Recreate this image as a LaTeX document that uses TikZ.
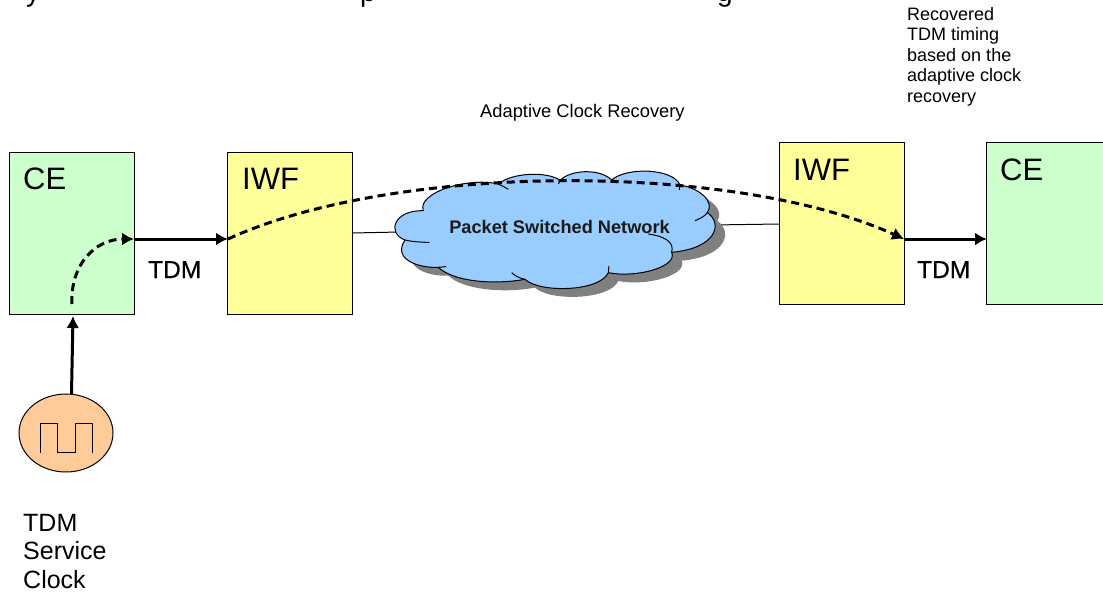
\documentclass[tikz,border=0pt]{standalone}
\usepackage{fontspec}
\setmainfont{Liberation Sans}
\newfontfamily\semibold[FakeBold=0.6]{Liberation Sans}
\usetikzlibrary{arrows.meta,shapes.geometric}
\definecolor{cegreen}{HTML}{CCFFCC}
\definecolor{iwfyellow}{HTML}{FFFF99}
\definecolor{cloudblue}{HTML}{99CCFF}
\definecolor{clockorange}{HTML}{FFCC99}
\definecolor{shadowgray}{HTML}{808080}
\newcommand{\fsz}[1]{\fontsize{#1pt}{#1pt}\selectfont}
\newcommand{\cloudpath}{(160,152) .. controls (140,100) and (290,50) .. (385,72)
 .. controls (430,35) and (540,35) .. (570,62)
 .. controls (600,28) and (690,25) .. (725,60)
 .. controls (770,20) and (910,25) .. (930,75)
 .. controls (990,85) and (1035,125) .. (1012,158)
 .. controls (1060,190) and (1040,265) .. (905,277)
 .. controls (925,320) and (800,355) .. (715,338)
 .. controls (690,395) and (510,400) .. (465,358)
 .. controls (370,375) and (250,365) .. (205,322)
 .. controls (150,325) and (65,300) .. (105,240)
 .. controls (50,220) and (70,150) .. (160,152) -- cycle}
\tikzset{
  x=1pt,y=-1pt,
  boxbase/.style={draw=black,line width=1pt,minimum width=125pt,inner sep=0pt,outer sep=0pt},
  cebox/.style={boxbase,fill=cegreen},
  iwfbox/.style={boxbase,fill=iwfyellow},
  boxtitle/.style={anchor=base west,inner sep=0pt,font=\fsz{31}},
  smalltext/.style={anchor=base west,inner sep=0pt,font=\fsz{18}},
  clocktext/.style={anchor=base west,inner sep=0pt,font=\fsz{25}},
  linklabel/.style={anchor=base west,inner sep=0pt,font=\semibold\fsz{24.5}},
  heavy/.style={line width=3pt,-{Latex[length=12pt,width=13pt]}},
  dashline/.style={line width=3pt,dash pattern=on 8pt off 5pt,-{Latex[length=12pt,width=13pt]}},
  thin link/.style={draw=black,line width=1pt},
  cloudline/.style={draw=black,line width=1pt}
}
\begin{document}
\begin{tikzpicture}
\useasboundingbox (0,0) rectangle (1103,592);
\clip (0,0) rectangle (1103,592);
% top line cut off by the frame: only these descenders remain
\node[anchor=base,inner sep=0pt,font=\fsz{28}] (topy) at (33,1) {y};
\node[anchor=base,inner sep=0pt,font=\fsz{28}] (topp) at (368,1) {p};
\node[anchor=base,inner sep=0pt,font=\fsz{28}] (topg) at (725,1) {g};
% boxes
\node[cebox,minimum height=162pt,anchor=north west] (ce1) at (9,152) {};
\node[iwfbox,minimum height=162pt,anchor=north west] (iwf1) at (227,152) {};
\node[iwfbox,minimum height=162pt,anchor=north west] (iwf2) at (779,142) {};
\node[cebox,minimum height=162pt,anchor=north west] (ce2) at (986,142) {};
\node[boxtitle] (ce1t) at (23,189) {CE};
\node[boxtitle] (iwf1t) at (242,189) {IWF};
\node[boxtitle] (iwf2t) at (793,180) {IWF};
\node[boxtitle] (ce2t) at (1000,180) {CE};
% thin links behind the cloud
\coordinate (la) at (352,233);
\coordinate (lb) at (400,232);
\coordinate (lc) at (712,225);
\coordinate (ld) at (779,224);
\draw[thin link] (la) -- (lb);
\draw[thin link] (lc) -- (ld);
% cloud
\begin{scope}[shift={(370,160)},x=0.3333pt,y=-0.3333pt]
  \fill[shadowgray,shift={(30,25)}] \cloudpath;
  \draw[cloudline,fill=cloudblue] \cloudpath;
  \draw[cloudline] (385,72) .. controls (395,76) and (405,82) .. (415,88);
  \draw[cloudline] (570,62) -- (565,72);
  \draw[cloudline] (725,60) -- (722,68);
  \draw[cloudline] (930,75) -- (928,90);
  \draw[cloudline] (1012,158) .. controls (1003,170) and (990,176) .. (975,182);
  \draw[cloudline] (905,277) .. controls (915,245) and (880,228) .. (835,222);
  \draw[cloudline] (715,338) -- (717,318);
  \draw[cloudline] (465,358) .. controls (450,355) and (435,348) .. (425,338);
  \draw[cloudline] (205,322) -- (228,320);
  \draw[cloudline] (105,240) .. controls (125,245) and (155,247) .. (178,247);
\end{scope}
\node[anchor=base,inner sep=0pt,font=\bfseries\fsz{18.2},text=black!90] (psn) at (559.5,233) {Packet Switched Network};
% clock
\node[draw=black,line width=1pt,fill=clockorange,ellipse,minimum width=94pt,minimum height=78pt,inner sep=0pt,outer sep=0pt] (clk) at (66,433) {};
\draw[line width=1pt] (40,453) -- (40,423.5) -- (57.7,423.5) -- (57.7,452.7) -- (75,452.7) -- (75,423.5) -- (92.3,423.5) -- (92.3,453);
% connectors
\coordinate (clktop) at (71.5,394);
\coordinate (cebot) at (73,316);
\coordinate (ce1in) at (72,304);
\coordinate (ce1out) at (134,239);
\coordinate (iwf1in) at (228,239);
\coordinate (iwf2out) at (904,239);
\coordinate (ce2in) at (987,239);
\draw[heavy] (clktop) -- (cebot);
\draw[heavy] (ce1out) -- (iwf1in);
\draw[heavy] (iwf2out) -- (ce2in);
\draw[dashline] (ce1in) .. controls (70,265) and (95,239) .. (ce1out);
\draw[dashline] (iwf1in) .. controls (396,162) and (735,162) .. (iwf2out);
% labels
\node[linklabel] (tdm1) at (148,278) {TDM};
\node[linklabel] (tdm2) at (917,278) {TDM};
\node[smalltext,font=\fsz{18.3}] (acr) at (480,117) {Adaptive Clock Recovery};
\node[smalltext] (rec1) at (907,20) {Recovered};
\node[smalltext] (rec2) at (907,40.5) {TDM timing};
\node[smalltext] (rec3) at (907,61) {based on the};
\node[smalltext] (rec4) at (907,81.5) {adaptive clock};
\node[smalltext] (rec5) at (907,102) {recovery};
\node[clocktext] (clk1) at (23,531) {TDM};
\node[clocktext] (clk2) at (23,559.5) {Service};
\node[clocktext] (clk3) at (23,588) {Clock};
\end{tikzpicture}
\end{document}
